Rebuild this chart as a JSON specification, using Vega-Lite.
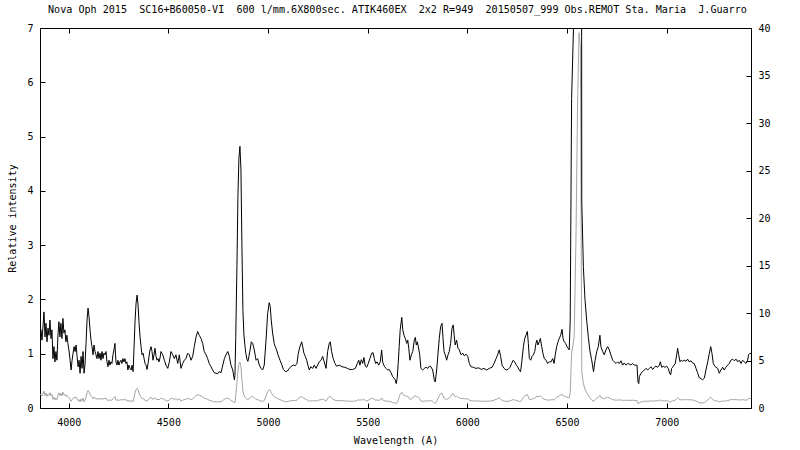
{
"$schema": "https://vega.github.io/schema/vega-lite/v6.json",
"autosize": {"type": "none"},
"padding": {"left": 40, "top": 28, "right": 49, "bottom": 42},
"width": 711,
"height": 380,
"background": "white",
"title": {"text": "Nova Oph 2015 \u00a0SC16+B60050-VI \u00a0600 l/mm.6X800sec. ATIK460EX \u00a02x2 R=949 \u00a020150507_999 Obs.REMOT Sta. Maria \u00a0J.Guarro", "font": "DejaVu Sans Mono", "fontSize": 10.1, "fontWeight": "normal", "color": "black", "anchor": "start", "dx": 41, "offset": 8},
"data": {"values": [
{"w":3856,"v":1.38},{"w":3861,"v":1.44},{"w":3866,"v":1.25},{"w":3871,"v":1.50},{"w":3876,"v":1.77},{"w":3881,"v":1.31},{"w":3886,"v":1.56},{"w":3891,"v":1.22},{"w":3896,"v":1.47},{"w":3901,"v":1.34},{"w":3906,"v":1.62},{"w":3911,"v":1.28},{"w":3916,"v":1.44},{"w":3921,"v":0.91},{"w":3926,"v":1.13},{"w":3931,"v":0.85},{"w":3936,"v":1.04},{"w":3941,"v":0.88},{"w":3946,"v":1.34},{"w":3951,"v":1.59},{"w":3956,"v":1.31},{"w":3961,"v":1.56},{"w":3966,"v":1.28},{"w":3971,"v":1.65},{"w":3976,"v":1.38},{"w":3981,"v":1.44},{"w":3986,"v":1.22},{"w":3991,"v":1.34},{"w":3996,"v":1.19},{"w":4001,"v":1.07},{"w":4007,"v":0.88},{"w":4012,"v":0.70},{"w":4017,"v":0.88},{"w":4022,"v":1.01},{"w":4027,"v":1.13},{"w":4032,"v":1.04},{"w":4037,"v":1.16},{"w":4042,"v":0.95},{"w":4047,"v":0.76},{"w":4052,"v":0.88},{"w":4057,"v":0.64},{"w":4062,"v":0.95},{"w":4067,"v":0.73},{"w":4072,"v":1.04},{"w":4077,"v":0.64},{"w":4082,"v":0.82},{"w":4087,"v":1.19},{"w":4092,"v":1.62},{"w":4097,"v":1.84},{"w":4102,"v":1.68},{"w":4107,"v":1.44},{"w":4112,"v":1.25},{"w":4117,"v":1.13},{"w":4122,"v":0.98},{"w":4127,"v":1.16},{"w":4132,"v":1.04},{"w":4137,"v":0.98},{"w":4142,"v":0.91},{"w":4147,"v":1.04},{"w":4152,"v":0.91},{"w":4157,"v":1.01},{"w":4162,"v":0.88},{"w":4167,"v":1.04},{"w":4172,"v":0.91},{"w":4177,"v":1.01},{"w":4182,"v":0.98},{"w":4187,"v":1.04},{"w":4192,"v":0.85},{"w":4197,"v":0.76},{"w":4202,"v":0.88},{"w":4207,"v":0.79},{"w":4212,"v":0.85},{"w":4217,"v":0.82},{"w":4222,"v":0.98},{"w":4227,"v":1.07},{"w":4232,"v":1.19},{"w":4237,"v":0.85},{"w":4242,"v":0.79},{"w":4247,"v":0.88},{"w":4252,"v":0.79},{"w":4257,"v":0.85},{"w":4262,"v":0.88},{"w":4267,"v":0.82},{"w":4272,"v":0.91},{"w":4277,"v":0.85},{"w":4282,"v":0.91},{"w":4287,"v":0.82},{"w":4292,"v":0.85},{"w":4297,"v":0.70},{"w":4302,"v":0.79},{"w":4308,"v":0.73},{"w":4313,"v":0.70},{"w":4318,"v":0.79},{"w":4323,"v":0.67},{"w":4328,"v":1.13},{"w":4333,"v":1.62},{"w":4338,"v":1.93},{"w":4343,"v":2.08},{"w":4348,"v":1.90},{"w":4353,"v":1.56},{"w":4358,"v":1.31},{"w":4363,"v":1.13},{"w":4368,"v":0.98},{"w":4373,"v":1.01},{"w":4378,"v":0.91},{"w":4383,"v":0.82},{"w":4388,"v":0.79},{"w":4393,"v":0.71},{"w":4398,"v":0.82},{"w":4403,"v":0.95},{"w":4408,"v":1.07},{"w":4413,"v":1.13},{"w":4418,"v":1.04},{"w":4423,"v":0.88},{"w":4428,"v":0.98},{"w":4433,"v":1.10},{"w":4438,"v":0.95},{"w":4443,"v":0.88},{"w":4448,"v":0.91},{"w":4453,"v":0.85},{"w":4458,"v":0.92},
{"w":4463,"v":1.04},{"w":4472,"v":0.98},{"w":4480,"v":0.88},{"w":4488,"v":0.79},{"w":4497,"v":0.73},{"w":4505,"v":0.85},{"w":4513,"v":1.04},{"w":4522,"v":0.98},{"w":4530,"v":0.91},{"w":4538,"v":0.98},{"w":4547,"v":0.82},{"w":4555,"v":0.98},{"w":4563,"v":0.73},{"w":4572,"v":0.82},{"w":4580,"v":0.88},{"w":4588,"v":0.91},{"w":4597,"v":1.01},{"w":4605,"v":0.98},{"w":4614,"v":0.88},{"w":4622,"v":0.95},{"w":4630,"v":1.13},{"w":4639,"v":1.31},{"w":4647,"v":1.41},{"w":4655,"v":1.34},{"w":4664,"v":1.28},{"w":4672,"v":1.19},{"w":4680,"v":1.04},{"w":4689,"v":0.98},{"w":4697,"v":0.91},{"w":4705,"v":0.82},{"w":4714,"v":0.76},{"w":4722,"v":0.70},{"w":4730,"v":0.65},{"w":4739,"v":0.64},{"w":4747,"v":0.63},{"w":4755,"v":0.67},{"w":4764,"v":0.65},{"w":4773,"v":0.79},{"w":4781,"v":0.91},{"w":4789,"v":0.98},{"w":4798,"v":1.04},{"w":4806,"v":0.95},{"w":4814,"v":0.79},{"w":4823,"v":0.70},{"w":4831,"v":0.52},{"w":4834,"v":0.60},{"w":4838,"v":1.30},{"w":4844,"v":2.60},{"w":4849,"v":3.90},{"w":4854,"v":4.60},{"w":4859,"v":4.82},{"w":4864,"v":4.40},{"w":4869,"v":3.00},{"w":4874,"v":1.80},{"w":4879,"v":1.35},{"w":4884,"v":1.15},{"w":4889,"v":1.00},{"w":4894,"v":0.90},{"w":4899,"v":0.86},{"w":4904,"v":0.95},{"w":4910,"v":1.07},{"w":4916,"v":1.22},{"w":4923,"v":1.19},{"w":4931,"v":1.07},{"w":4940,"v":0.88},{"w":4948,"v":0.91},{"w":4956,"v":0.79},{"w":4965,"v":0.73},{"w":4973,"v":0.70},{"w":4981,"v":0.79},{"w":4990,"v":1.25},{"w":4998,"v":1.74},{"w":5006,"v":1.94},{"w":5011,"v":1.87},{"w":5016,"v":1.62},{"w":5023,"v":1.38},{"w":5031,"v":1.19},{"w":5036,"v":1.13},{"w":5043,"v":1.07},{"w":5050,"v":0.98},{"w":5060,"v":0.88},
{"w":5070,"v":0.79},{"w":5077,"v":0.71},{"w":5087,"v":0.67},{"w":5097,"v":0.68},{"w":5107,"v":0.73},{"w":5117,"v":0.77},{"w":5127,"v":0.79},{"w":5137,"v":0.78},{"w":5145,"v":0.82},{"w":5152,"v":1.01},{"w":5160,"v":1.13},{"w":5169,"v":1.22},{"w":5174,"v":1.13},{"w":5180,"v":1.01},{"w":5187,"v":0.95},{"w":5194,"v":0.88},{"w":5200,"v":0.79},{"w":5207,"v":0.70},{"w":5215,"v":0.76},{"w":5224,"v":0.73},{"w":5232,"v":0.79},{"w":5241,"v":0.73},{"w":5249,"v":0.79},{"w":5257,"v":0.85},{"w":5266,"v":0.88},{"w":5274,"v":0.95},{"w":5282,"v":0.85},{"w":5291,"v":0.73},{"w":5299,"v":1.04},{"w":5307,"v":1.19},{"w":5312,"v":1.22},{"w":5319,"v":1.04},{"w":5327,"v":0.91},{"w":5336,"v":0.82},{"w":5344,"v":0.77},{"w":5357,"v":0.79},{"w":5371,"v":0.76},{"w":5385,"v":0.75},{"w":5398,"v":0.73},{"w":5411,"v":0.71},{"w":5425,"v":0.71},{"w":5438,"v":0.73},{"w":5448,"v":0.82},{"w":5455,"v":0.88},{"w":5461,"v":0.79},{"w":5468,"v":0.89},{"w":5475,"v":0.82},{"w":5481,"v":0.93},{"w":5488,"v":0.77},{"w":5495,"v":0.75},{"w":5503,"v":0.82},{"w":5511,"v":0.91},{"w":5520,"v":1.01},{"w":5527,"v":1.02},{"w":5533,"v":0.91},{"w":5540,"v":0.82},{"w":5547,"v":0.85},{"w":5555,"v":0.79},{"w":5563,"v":0.85},{"w":5570,"v":1.07},{"w":5575,"v":0.85},{"w":5583,"v":0.77},{"w":5592,"v":0.73},{"w":5600,"v":0.70},{"w":5608,"v":0.71},{"w":5617,"v":0.65},{"w":5625,"v":0.58},{"w":5632,"v":0.55},{"w":5638,"v":0.52},{"w":5643,"v":0.45},{"w":5648,"v":0.55},{"w":5653,"v":0.82},{"w":5658,"v":1.13},{"w":5663,"v":1.44},{"w":5671,"v":1.67},{"w":5676,"v":1.44},{"w":5682,"v":1.34},{"w":5689,"v":1.28},{"w":5696,"v":1.19},{"w":5701,"v":1.25},{"w":5706,"v":1.10},{"w":5712,"v":0.88},{"w":5719,"v":0.98},{"w":5726,"v":1.04},{"w":5734,"v":1.25},{"w":5739,"v":1.30},{"w":5744,"v":1.16},{"w":5749,"v":1.22},{"w":5754,"v":1.13},{"w":5761,"v":0.98},{"w":5767,"v":0.73},{"w":5776,"v":0.70},{"w":5784,"v":0.73},{"w":5792,"v":0.75},{"w":5801,"v":0.73},{"w":5809,"v":0.77},{"w":5817,"v":0.76},{"w":5826,"v":0.70},{"w":5834,"v":0.52},{"w":5839,"v":0.48},{"w":5846,"v":0.70},{"w":5853,"v":1.01},{"w":5859,"v":1.28},{"w":5866,"v":1.50},{"w":5873,"v":1.56},{"w":5878,"v":1.28},{"w":5883,"v":1.04},{"w":5889,"v":0.98},{"w":5896,"v":0.88},{"w":5903,"v":0.98},{"w":5909,"v":1.04},{"w":5916,"v":1.19},{"w":5923,"v":1.47},{"w":5929,"v":1.53},{"w":5934,"v":1.34},{"w":5939,"v":1.16},{"w":5946,"v":1.25},{"w":5953,"v":1.10},{"w":5960,"v":1.07},{"w":5968,"v":0.98},{"w":5977,"v":1.01},{"w":5985,"v":0.96},{"w":5993,"v":0.99},{"w":6002,"v":0.95},{"w":6010,"v":0.82},{"w":6018,"v":0.76},{"w":6030,"v":0.75},{"w":6043,"v":0.73},{"w":6057,"v":0.74},{"w":6070,"v":0.71},{"w":6083,"v":0.73},{"w":6097,"v":0.70},{"w":6110,"v":0.73},{"w":6124,"v":0.75},{"w":6134,"v":0.82},{"w":6144,"v":0.91},{"w":6152,"v":0.98},{"w":6160,"v":1.07},{"w":6167,"v":0.95},{"w":6174,"v":0.79},{"w":6184,"v":0.73},{"w":6194,"v":0.70},{"w":6204,"v":0.71},{"w":6214,"v":0.75},{"w":6222,"v":0.82},{"w":6230,"v":0.88},{"w":6237,"v":0.85},
{"w":6244,"v":0.80},{"w":6252,"v":0.76},{"w":6260,"v":0.70},{"w":6267,"v":0.67},{"w":6274,"v":0.88},{"w":6281,"v":1.13},{"w":6288,"v":1.28},{"w":6294,"v":1.34},{"w":6301,"v":1.41},{"w":6306,"v":1.19},{"w":6311,"v":0.91},{"w":6318,"v":0.88},{"w":6324,"v":0.95},{"w":6331,"v":0.98},{"w":6338,"v":1.04},{"w":6344,"v":1.19},{"w":6349,"v":1.25},{"w":6354,"v":1.16},{"w":6361,"v":1.22},{"w":6366,"v":1.28},{"w":6373,"v":1.13},{"w":6379,"v":1.01},{"w":6386,"v":0.91},{"w":6395,"v":0.88},{"w":6403,"v":0.82},{"w":6411,"v":0.85},{"w":6420,"v":0.85},{"w":6428,"v":0.91},{"w":6435,"v":0.82},{"w":6441,"v":0.98},{"w":6448,"v":1.13},{"w":6455,"v":1.22},{"w":6461,"v":1.28},{"w":6468,"v":1.34},{"w":6475,"v":1.45},{"w":6480,"v":1.28},{"w":6486,"v":1.22},{"w":6493,"v":1.19},{"w":6500,"v":1.13},{"w":6506,"v":1.10},{"w":6511,"v":1.07},{"w":6516,"v":1.62},{"w":6523,"v":5.7},{"w":6536,"v":7.5},{"w":6545,"v":18},{"w":6553,"v":32},{"w":6560,"v":39.5},{"w":6567,"v":38},{"w":6574,"v":3.8},{"w":6582,"v":2.6},{"w":6590,"v":2.0},{"w":6599,"v":1.6},{"w":6607,"v":1.3},{"w":6615,"v":1.05},{"w":6623,"v":0.9},{"w":6633,"v":0.67},{"w":6641,"v":0.88},{"w":6649,"v":1.04},{"w":6657,"v":1.13},{"w":6665,"v":1.34},{"w":6670,"v":1.13},{"w":6679,"v":1.04},{"w":6687,"v":0.98},{"w":6695,"v":1.07},{"w":6704,"v":1.13},{"w":6712,"v":1.07},{"w":6720,"v":0.98},{"w":6729,"v":0.88},{"w":6737,"v":0.85},{"w":6746,"v":0.82},{"w":6754,"v":0.85},{"w":6762,"v":0.82},{"w":6771,"v":0.87},{"w":6779,"v":0.79},{"w":6787,"v":0.83},{"w":6796,"v":0.79},{"w":6804,"v":0.82},{"w":6812,"v":0.81},{"w":6821,"v":0.79},{"w":6829,"v":0.82},{"w":6837,"v":0.79},{"w":6846,"v":0.79},{"w":6851,"v":0.79},{"w":6856,"v":0.48},{"w":6860,"v":0.45},{"w":6863,"v":0.58},{"w":6871,"v":0.64},{"w":6880,"v":0.67},{"w":6888,"v":0.70},{"w":6896,"v":0.73},{"w":6905,"v":0.70},{"w":6913,"v":0.73},{"w":6921,"v":0.76},{"w":6930,"v":0.71},{"w":6938,"v":0.75},{"w":6946,"v":0.77},{"w":6955,"v":0.75},{"w":6963,"v":0.79},{"w":6968,"v":0.85},{"w":6975,"v":0.75},{"w":6983,"v":0.77},{"w":6991,"v":0.75},{"w":7000,"v":0.77},{"w":7008,"v":0.73},{"w":7015,"v":0.64},{"w":7020,"v":0.61},{"w":7025,"v":0.73},{"w":7030,"v":0.75},{"w":7037,"v":0.79},{"w":7043,"v":0.82},{"w":7050,"v":0.98},{"w":7055,"v":1.10},{"w":7060,"v":0.98},{"w":7067,"v":0.85},{"w":7073,"v":0.88},{"w":7080,"v":0.86},{"w":7088,"v":0.88},{"w":7097,"v":0.86},{"w":7105,"v":0.90},{"w":7113,"v":0.85},{"w":7122,"v":0.87},{"w":7130,"v":0.83},{"w":7138,"v":0.82},{"w":7147,"v":0.73},{"w":7155,"v":0.65},{"w":7163,"v":0.56},{"w":7172,"v":0.54},{"w":7180,"v":0.52},{"w":7189,"v":0.55},{"w":7197,"v":0.70},{"w":7206,"v":0.85},{"w":7214,"v":1.01},{"w":7221,"v":1.13},{"w":7227,"v":1.01},{"w":7234,"v":0.82},{"w":7241,"v":0.77},{"w":7247,"v":0.75},{"w":7256,"v":0.73},{"w":7264,"v":0.64},{"w":7272,"v":0.70},{"w":7281,"v":0.75},{"w":7289,"v":0.70},{"w":7297,"v":0.75},{"w":7306,"v":0.79},{"w":7314,"v":0.82},{"w":7322,"v":0.88},{"w":7331,"v":0.90},{"w":7339,"v":0.87},{"w":7348,"v":0.90},{"w":7356,"v":0.85},{"w":7364,"v":0.88},{"w":7373,"v":0.82},{"w":7381,"v":0.88},{"w":7389,"v":0.85},{"w":7398,"v":0.82},{"w":7406,"v":0.88},{"w":7411,"v":0.98},{"w":7418,"v":1.01},{"w":7423,"v":1.00}
]},
"layer": [
{"mark": {"type": "line", "color": "#a4a4a4", "strokeWidth": 1, "clip": true},
 "encoding": {
  "x": {"field": "w", "type": "quantitative", "scale": {"domain": [3856, 7423], "nice": false, "zero": false},
        "axis": {"orient": "bottom", "values": [4000, 4500, 5000, 5500, 6000, 6500, 7000], "format": "d", "title": "Wavelength (A)", "labelPadding": 14, "titleY": 32, "titleBaseline": "middle"}},
  "y": {"field": "v", "type": "quantitative", "scale": {"domain": [0, 40], "nice": false, "zero": true},
        "axis": {"orient": "right", "values": [0, 5, 10, 15, 20, 25, 30, 35, 40], "title": null, "labelPadding": 12}}
 }},
{"mark": {"type": "line", "color": "black", "strokeWidth": 1, "clip": true},
 "encoding": {
  "x": {"field": "w", "type": "quantitative",
        "axis": {"orient": "top", "values": [4000, 4500, 5000, 5500, 6000, 6500, 7000], "labels": false, "title": null}},
  "y": {"field": "v", "type": "quantitative", "scale": {"domain": [0, 7], "nice": false, "zero": true},
        "axis": {"orient": "left", "values": [0, 1, 2, 3, 4, 5, 6, 7], "title": "Relative intensity", "labelPadding": 12, "titleX": -28, "titleY": 190, "titleBaseline": "middle", "titleAngle": -90, "titleAlign": "center"}}
 }}
],
"resolve": {"scale": {"y": "independent"}, "axis": {"x": "independent", "y": "independent"}},
"config": {
 "view": {"stroke": "black", "strokeWidth": 1},
 "axis": {"grid": false, "domain": false, "tickColor": "black", "tickSize": -5, "labelColor": "black", "labelFont": "DejaVu Sans Mono", "labelFontSize": 10, "titleFont": "DejaVu Sans Mono", "titleFontSize": 10, "titleFontWeight": "normal", "titleColor": "black"}
}
}
